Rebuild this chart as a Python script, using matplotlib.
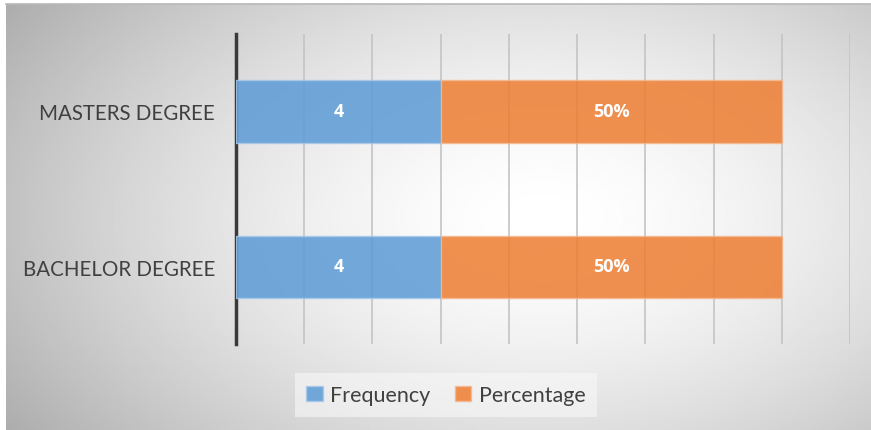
import numpy as np
import matplotlib.pyplot as plt
from matplotlib.patches import Patch

# ----------------------------
# Data
# ----------------------------
categories = ['BACHELOR DEGREE', 'MASTERS DEGREE']
freq_len = [3, 3]          # bar length of the Frequency part (axis units)
pct_len = [5, 5]           # bar length of the Percentage part (axis units)
freq_labels = ['4', '4']
pct_labels = ['50%', '50%']
x_max = 9

blue = '#5b9bd5'
orange = '#ed7d31'

plt.rcParams['font.family'] = ['Lato', 'DejaVu Sans']

W, H = 871, 431
fig = plt.figure(figsize=(W / 100, H / 100), dpi=100)

# ----------------------------
# Background: radial grey gradient, white in the middle
# ----------------------------
bg = fig.add_axes([6 / W, 0, 1 - 6 / W, 1 - 5 / H])
gx, gy = np.meshgrid(np.linspace(0, 1, 400), np.linspace(0, 1, 200))
r = np.sqrt(((gx - 0.62) / 0.62) ** 2 + ((gy - 0.5) / 0.75) ** 2)
shade = 1.0 - 0.24 * np.clip(r, 0, 1.25) ** 1.6
bg.imshow(shade, cmap='gray', vmin=0, vmax=1, aspect='auto',
          extent=[0, 1, 0, 1], interpolation='bilinear')
bg.set_xlim(0, 1)
bg.set_ylim(0, 1)
bg.axis('off')
bg.plot([0, 1], [1, 1], color='#b8b8b8', lw=1.2, clip_on=False)

# ----------------------------
# Bars
# ----------------------------
ax = fig.add_axes([236 / W, 1 - 345 / H, (850 - 236) / W, (345 - 35) / H])
ax.patch.set_alpha(0)
y = np.arange(len(categories))

b1 = ax.barh(y, freq_len, height=0.4, color=blue, alpha=0.85,
             edgecolor='#a9c9ea', linewidth=1, zorder=3)
b2 = ax.barh(y, pct_len, left=freq_len, height=0.4, color=orange, alpha=0.85,
             edgecolor='#f5b88f', linewidth=1, zorder=3)
lab_kw = dict(label_type='center', color='white', fontsize=13,
              fontweight='bold', family=['Open Sans', 'DejaVu Sans'])
ax.bar_label(b1, labels=freq_labels, **lab_kw)
ax.bar_label(b2, labels=pct_labels, **lab_kw)

ax.set_xlim(0, x_max)
ax.set_ylim(-0.5, len(categories) - 0.5)
ax.set_xticks(np.arange(0, x_max + 1))
ax.set_xticklabels([])
ax.tick_params(axis='x', length=0)
ax.grid(axis='x', color='#c4c4c4', linewidth=1.2, zorder=0)
for s in ['top', 'right', 'bottom']:
    ax.spines[s].set_visible(False)
ax.spines['left'].set_color('#3a3a3a')
ax.spines['left'].set_linewidth(2.5)
ax.set_yticks(y)
ax.set_yticklabels(categories, fontsize=14.8, color='#404040')
ax.tick_params(axis='y', length=0, pad=15)

# ----------------------------
# Legend
# ----------------------------
handles = [Patch(facecolor=blue, alpha=0.85, edgecolor='#a9c9ea', label='Frequency'),
           Patch(facecolor=orange, alpha=0.85, edgecolor='#f5b88f', label='Percentage')]
leg = fig.legend(handles=handles, loc='center', bbox_to_anchor=(446 / W, 1 - 396 / H),
                 ncol=2, frameon=True, fontsize=15.5, handlelength=0.75, handleheight=0.75,
                 handletextpad=0.35, columnspacing=1.15, borderpad=0.55, borderaxespad=0,
                 facecolor='#f8f8f8', edgecolor='none', framealpha=0.6,
                 labelcolor='#404040', fancybox=False)

fig.savefig('out.png', dpi=100)
